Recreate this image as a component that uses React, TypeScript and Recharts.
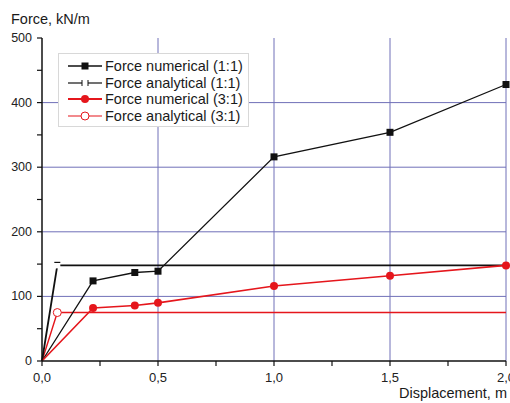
import React from 'react';
import { LineChart, Line, XAxis, YAxis, ReferenceLine, Legend } from 'recharts';

// values
const numX = [0, 0.22, 0.4, 0.5, 1.0, 1.5, 2.0];
const numForce11 = [0, 124, 137, 139, 316, 354, 428];
const numForce31 = [0, 82, 86, 90, 116, 132, 148];
const anaX = [0, 0.066, 2.0];
const anaForce11 = [0, 148, 148];
const anaForce31 = [0, 75, 75];

const xTicks = [0, 0.25, 0.5, 0.75, 1.0, 1.25, 1.5, 1.75, 2.0];
const yTicks = [0, 50, 100, 150, 200, 250, 300, 350, 400, 450, 500];
const xGrid = [0.5, 1.0, 1.5, 2.0];
const yGrid = [100, 200, 300, 400];

const seriesNames = [
  'Force numerical (1:1)',
  'Force analytical (1:1)',
  'Force numerical (3:1)',
  'Force analytical (3:1)',
];

const toPoints = (xs: number[], ys: number[]) => xs.map((x, i) => ({ x, y: ys[i] }));

const num11 = toPoints(numX, numForce11);
const num31 = toPoints(numX, numForce31);
const ana11 = toPoints(anaX, anaForce11);
const ana31 = toPoints(anaX, anaForce31);

const BLACK = '#111111';
const RED = '#e5161c';
const GRID = '#7070b8';
const FONT = '"Liberation Sans", Arial, sans-serif';

const fmtX = (v: number) => v.toFixed(1).replace('.', ',');

const XTick = (props: any) => {
  const { x, y, payload } = props;
  const major = Math.abs(payload.value * 2 - Math.round(payload.value * 2)) < 1e-6;
  return (
    <g>
      <line x1={x} x2={x} y1={y} y2={y + 5} stroke={BLACK} strokeWidth={1.2} />
      {major && (
        <text x={x} y={y + 21} textAnchor="middle" fontSize={13} fontFamily={FONT} fill="#222">
          {fmtX(payload.value)}
        </text>
      )}
    </g>
  );
};

const YTick = (props: any) => {
  const { x, y, payload } = props;
  const major = payload.value % 100 === 0;
  return (
    <g>
      <line x1={x - 5} x2={x} y1={y} y2={y} stroke={BLACK} strokeWidth={1.2} />
      {major && (
        <text x={x - 10} y={y + 4} textAnchor="end" fontSize={12.5} fontFamily={FONT} fill="#222">
          {payload.value}
        </text>
      )}
    </g>
  );
};

// markers skip the origin point
const squareDot = (props: any) => {
  const { cx, cy, index } = props;
  if (index === 0) return <g key={`s${index}`} />;
  return <rect key={`s${index}`} x={cx - 3.5} y={cy - 3.5} width={7} height={7} fill={BLACK} />;
};

const redDot = (props: any) => {
  const { cx, cy, index } = props;
  if (index === 0) return <g key={`r${index}`} />;
  return <circle key={`r${index}`} cx={cx} cy={cy} r={4} fill={RED} />;
};

const openSquareDot = (props: any) => {
  const { cx, cy, index } = props;
  if (index !== 1) return <g key={`o${index}`} />;
  return (
    <g key={`o${index}`}>
      <rect x={cx - 3} y={cy - 3} width={6} height={6} fill="#fff" />
      <line x1={cx - 3} x2={cx + 3} y1={cy - 3} y2={cy - 3} stroke={BLACK} strokeWidth={1.2} />
    </g>
  );
};

const openCircleDot = (props: any) => {
  const { cx, cy, index } = props;
  if (index !== 1) return <g key={`c${index}`} />;
  return <circle key={`c${index}`} cx={cx} cy={cy} r={4} fill="#fff" stroke={RED} strokeWidth={1} />;
};

const LegendSymbol = ({ i }: { i: number }) => {
  if (i === 0) {
    return (
      <svg width={34} height={12}>
        <line x1={0} x2={34} y1={6} y2={6} stroke={BLACK} strokeWidth={1.5} />
        <rect x={13.5} y={2.5} width={7} height={7} fill={BLACK} />
      </svg>
    );
  }
  if (i === 1) {
    return (
      <svg width={34} height={12}>
        <line x1={0} x2={14} y1={6} y2={6} stroke={BLACK} strokeWidth={1.2} />
        <line x1={20} x2={34} y1={6} y2={6} stroke={BLACK} strokeWidth={1.2} />
        <line x1={14} x2={14} y1={3} y2={9} stroke={BLACK} strokeWidth={1} />
        <line x1={20} x2={20} y1={3} y2={9} stroke={BLACK} strokeWidth={1} />
      </svg>
    );
  }
  if (i === 2) {
    return (
      <svg width={34} height={12}>
        <line x1={0} x2={34} y1={6} y2={6} stroke={RED} strokeWidth={1.8} />
        <circle cx={17} cy={6} r={4} fill={RED} />
      </svg>
    );
  }
  return (
    <svg width={34} height={12}>
      <line x1={0} x2={34} y1={6} y2={6} stroke={RED} strokeWidth={1.2} />
      <circle cx={17} cy={6} r={4} fill="#fff" stroke={RED} strokeWidth={1} />
    </svg>
  );
};

const renderLegend = () => (
  <div
    style={{
      width: 191,
      height: 74,
      boxSizing: 'border-box',
      border: '1px solid #d8d8d8',
      background: '#fff',
      padding: '4px 0 0 9px',
      fontFamily: FONT,
      fontSize: 14.5,
      color: '#1a1a1a',
    }}
  >
    {seriesNames.map((name, i) => (
      <div key={name} style={{ display: 'flex', alignItems: 'center', height: 16.5, whiteSpace: 'nowrap' }}>
        <LegendSymbol i={i} />
        <span style={{ marginLeft: 3 }}>{name}</span>
      </div>
    ))}
  </div>
);

export default function App() {
  return (
    <div style={{ position: 'absolute', left: 0, top: 0, width: 510, height: 403, background: '#fff' }}>
      <LineChart width={510} height={403} margin={{ top: 38, right: 4, bottom: 0, left: 2 }}>
        <XAxis
          type="number"
          dataKey="x"
          domain={[0, 2]}
          ticks={xTicks}
          interval={0}
          height={42}
          tickSize={0}
          tickMargin={0}
          tick={<XTick />}
          tickLine={false}
          axisLine={{ stroke: BLACK, strokeWidth: 1.5 }}
          label={{
            content: () => (
              <text x={507} y={398} textAnchor="end" fontSize={14.5} fontFamily={FONT} fill="#1a1a1a">
                Displacement, m
              </text>
            ),
          }}
        />
        <YAxis
          type="number"
          dataKey="y"
          domain={[0, 500]}
          ticks={yTicks}
          interval={0}
          width={40}
          tickSize={0}
          tickMargin={0}
          tick={<YTick />}
          tickLine={false}
          axisLine={{ stroke: BLACK, strokeWidth: 1.5 }}
          label={{
            content: () => (
              <text x={11} y={24} fontSize={14.5} fontFamily={FONT} fill="#1a1a1a">
                Force, kN/m
              </text>
            ),
          }}
        />
        {yGrid.map((v) => (
          <ReferenceLine key={`h${v}`} y={v} stroke={GRID} strokeWidth={1} />
        ))}
        {xGrid.map((v) => (
          <ReferenceLine key={`v${v}`} x={v} stroke={GRID} strokeWidth={1} />
        ))}
        <Line
          data={ana31}
          dataKey="y"
          name={seriesNames[3]}
          type="linear"
          stroke={RED}
          strokeWidth={1.4}
          dot={openCircleDot}
          activeDot={false}
          isAnimationActive={false}
        />
        <Line
          data={ana11}
          dataKey="y"
          name={seriesNames[1]}
          type="linear"
          stroke={BLACK}
          strokeWidth={1.8}
          dot={openSquareDot}
          activeDot={false}
          isAnimationActive={false}
        />
        <Line
          data={num11}
          dataKey="y"
          name={seriesNames[0]}
          type="linear"
          stroke={BLACK}
          strokeWidth={1.3}
          dot={squareDot}
          activeDot={false}
          isAnimationActive={false}
        />
        <Line
          data={num31}
          dataKey="y"
          name={seriesNames[2]}
          type="linear"
          stroke={RED}
          strokeWidth={1.6}
          dot={redDot}
          activeDot={false}
          isAnimationActive={false}
        />
        <Legend
          layout="vertical"
          align="center"
          verticalAlign="middle"
          content={renderLegend}
          wrapperStyle={{ left: 58, top: 53, width: 191 }}
        />
      </LineChart>
    </div>
  );
}
